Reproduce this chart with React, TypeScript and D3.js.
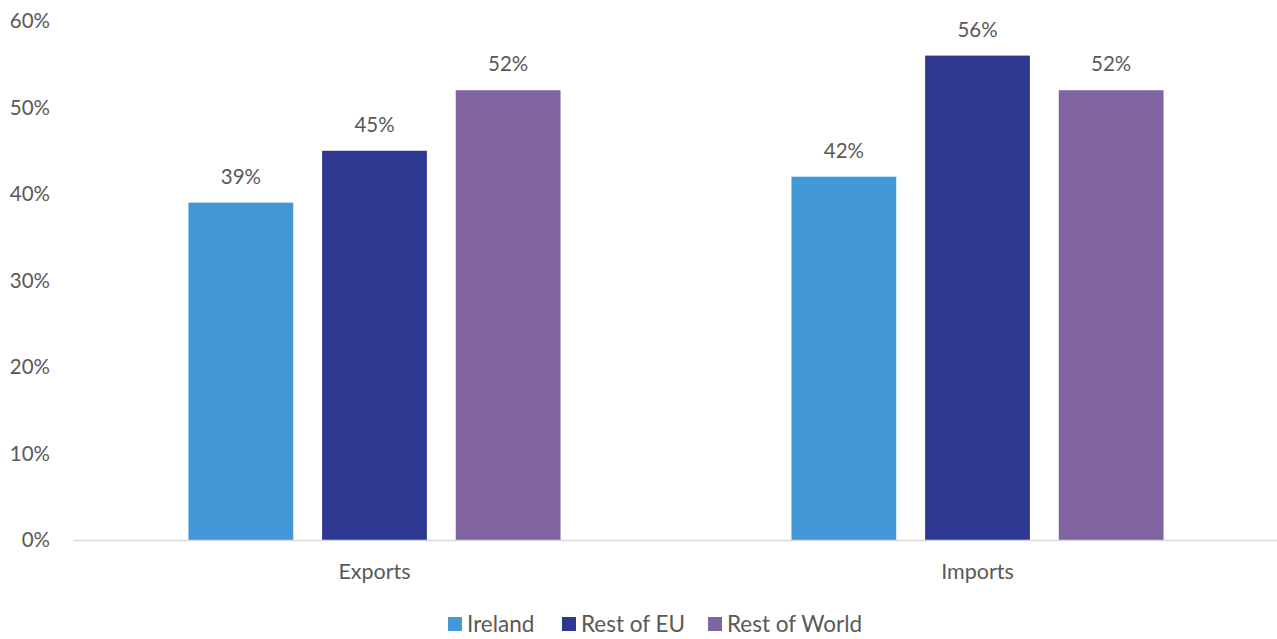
import React from "react";
import * as d3 from "d3";

const categories = ["Exports", "Imports"];
const seriesNames = ["Ireland", "Rest of EU", "Rest of World"];
const ireland = [39, 42];
const restOfEU = [45, 56];
const restOfWorld = [52, 52];
const yTicks = [0, 10, 20, 30, 40, 50, 60];
const colors = ["#4298D6", "#2E3890", "#8064A2"];

const W = 1277;
const H = 639;
const FONT = "Lato, 'Open Sans', sans-serif";
const TXT = "#595959";

export default function App() {
  const series = [ireland, restOfEU, restOfWorld];
  const left = 73, right = 1279, top = 21, bottom = 540;
  const x0 = d3.scaleBand().domain(categories).range([left, right]).paddingInner(0.383).paddingOuter(0.1915);
  const x1 = d3.scaleBand().domain(seriesNames).range([0, x0.bandwidth()]).paddingInner(0.216);
  const y = d3.scaleLinear().domain([0, 60]).range([bottom, top]);
  const legendX = [448, 562, 708];

  return (
    <svg width={W} height={H} style={{ position: "absolute", left: 0, top: 0, background: "#fff" }} fontFamily={FONT}>
      {yTicks.map((t) => (
        <text key={t} x={50} y={y(t)} dy="0.35em" textAnchor="end" fontSize={20.5} fill={TXT}>{t}%</text>
      ))}
      {categories.map((c, ci) => (
        <g key={c}>
          {series.map((s, si) => {
            const bx = (x0(c) as number) + (x1(seriesNames[si]) as number);
            const bw = x1.bandwidth();
            return (
              <g key={si}>
                <rect x={bx} y={y(s[ci])} width={bw} height={bottom - y(s[ci])} fill={colors[si]} />
                <text x={bx + bw / 2} y={y(s[ci]) - 19} textAnchor="middle" fontSize={20.5} fill={TXT}>{s[ci]}%</text>
              </g>
            );
          })}
          <text x={(x0(c) as number) + x0.bandwidth() / 2} y={579} textAnchor="middle" fontSize={21.5} fill={TXT}>{c}</text>
        </g>
      ))}
      <line x1={left} x2={W} y1={bottom + 0.5} y2={bottom + 0.5} stroke="#d9d9d9" strokeWidth={1.5} />
      {seriesNames.map((n, i) => (
        <g key={n}>
          <rect x={legendX[i]} y={617} width={14} height={14} fill={colors[i]} />
          <text x={legendX[i] + 19} y={632} fontSize={22.5} fill={TXT}>{n}</text>
        </g>
      ))}
    </svg>
  );
}
